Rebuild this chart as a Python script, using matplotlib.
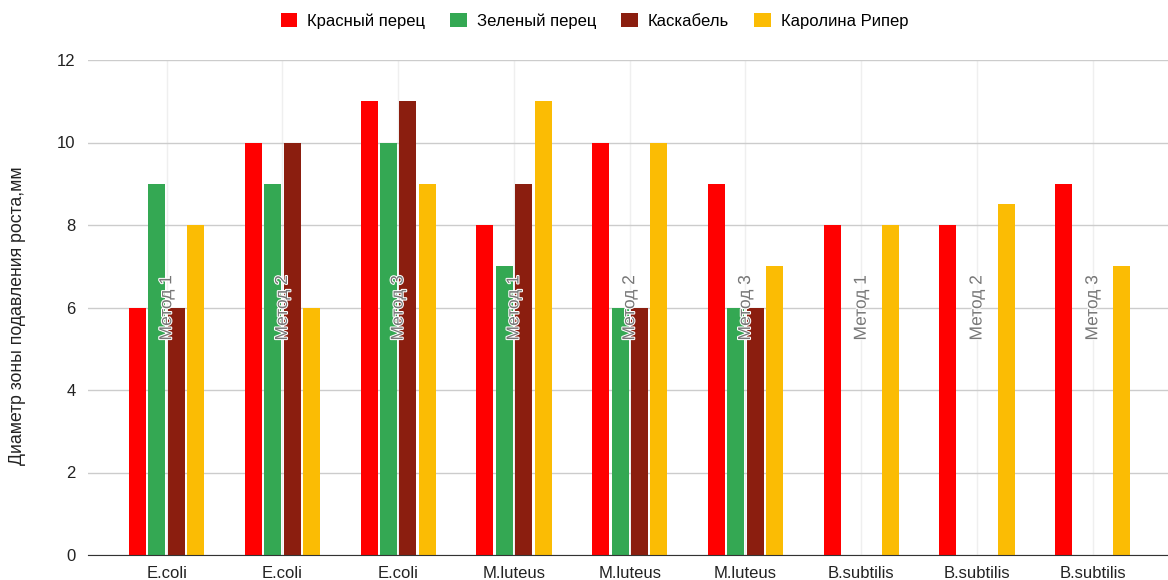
import numpy as np
import matplotlib.pyplot as plt
import matplotlib.patheffects as pe

plt.rcParams["font.family"] = ["Liberation Sans", "DejaVu Sans"]

#%%
# данные
groups = ["E.coli", "E.coli", "E.coli", "M.luteus", "M.luteus", "M.luteus",
          "B.subtilis", "B.subtilis", "B.subtilis"]
methods = ["Метод 1", "Метод 2", "Метод 3"] * 3

red_pepper = [6, 10, 11, 8, 10, 9, 8, 8, 9]
green_pepper = [9, 9, 10, 7, 6, 6, 0, 0, 0]
cascabel = [6, 10, 11, 9, 6, 6, 0, 0, 0]
carolina = [8, 6, 9, 11, 10, 7, 8, 8.5, 7]

series_names = ["Красный перец", "Зеленый перец", "Каскабель", "Каролина Рипер"]
series_colors = ["#ff0000", "#34a853", "#8b1e0f", "#fbbc04"]

#%%
fig = plt.figure(figsize=(11.68, 5.8), dpi=100)
ax = fig.add_axes([88/1168, 25/580, 1080/1168, 495/580])

x = np.arange(len(groups))
step = 0.168
width = 0.147
all_series = [red_pepper, green_pepper, cascabel, carolina]

for i in range(len(all_series)):
    ax.bar(x + (i-1.5)*step, all_series[i], width=width,
           color=series_colors[i], label=series_names[i], zorder=3)

for i in range(len(x)):
    ax.text(x[i], 5.2, methods[i], rotation=90, ha="center", va="bottom",
            fontsize=12.5, color="#777777", zorder=4,
            path_effects=[pe.withStroke(linewidth=1.5, foreground="white")])

ax.set_xlim(-0.68, 8.65)
ax.set_ylim(0, 12)
ax.set_yticks([0, 2, 4, 6, 8, 10, 12])
ax.set_xticks(x)
ax.set_xticklabels(groups)
ax.tick_params(axis="both", length=0, labelsize=12, colors="#222222")
ax.tick_params(axis="y", pad=9)
ax.tick_params(axis="x", pad=8)

ax.grid(axis="y", color="#cccccc", linewidth=1, zorder=0)
ax.grid(axis="x", color="#efefef", linewidth=1, zorder=0)
for s in ["top", "right", "left"]:
    ax.spines[s].set_visible(False)
ax.spines["bottom"].set_color("#333333")
ax.spines["bottom"].set_zorder(5)

fig.text(18/1168, 1-316/580, "Диаметр зоны подавления роста,мм", rotation=90,
         ha="center", va="center", fontsize=12.7, color="#222222")

fig.legend(loc="upper center", bbox_to_anchor=(0.509, 1.0), ncol=4,
           frameon=False, fontsize=12, handlelength=1.0, handleheight=1.0,
           columnspacing=1.5, handletextpad=0.6, borderaxespad=0.35)

plt.savefig("out.png", dpi=100)
